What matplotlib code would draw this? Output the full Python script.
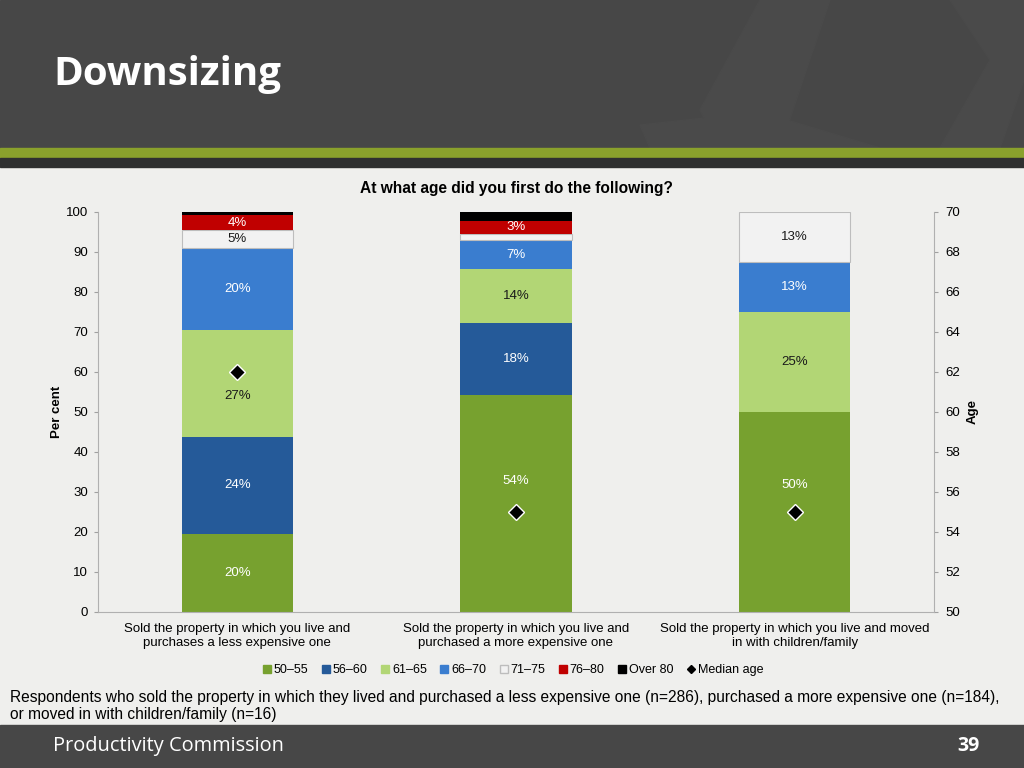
import numpy as np
import matplotlib.pyplot as plt
from matplotlib.patches import Rectangle, Polygon
from matplotlib.lines import Line2D


# --- data ---
categories = ['Sold the property in which you live and\npurchases a less expensive one',
              'Sold the property in which you live and\npurchased a more expensive one',
              'Sold the property in which you live and moved\nin with children/family']
age_groups = ['50\u201355', '56\u201360', '61\u201365', '66\u201370', '71\u201375', '76\u201380', 'Over 80']
shares = np.array([
    [19.6, 54.3, 50.0],   # 50-55
    [24.1, 17.9, 0.0],    # 56-60
    [26.9, 13.6, 25.0],   # 61-65
    [20.3, 7.1, 12.5],    # 66-70
    [4.5, 1.6, 12.5],     # 71-75
    [3.8, 3.3, 0.0],      # 76-80
    [0.8, 2.2, 0.0],      # Over 80
])
bar_labels = [
    ['20%', '54%', '50%'],
    ['24%', '18%', ''],
    ['27%', '14%', '25%'],
    ['20%', '7%', '13%'],
    ['5%', '', '13%'],
    ['4%', '3%', ''],
    ['', '', ''],
]
median_age = [62, 55, 55]

colors = ['#77a12f', '#255a99', '#b2d675', '#3a7dcf', '#f2f2f2', '#c00000', '#000000']
label_colors = ['white', 'white', '#1a1a1a', 'white', '#1a1a1a', 'white', 'white']
# labels that excel moved out of the way of the median markers: (group, bar) -> shift
label_nudge = {(2, 0): -3.2, (0, 1): 5.7, (0, 2): 6.7}

bg = '#efefed'
header = '#474747'

plt.rcParams['font.family'] = ['Liberation Sans', 'DejaVu Sans']

fig = plt.figure(figsize=(10.24, 7.68), dpi=100)
fig.patch.set_facecolor(bg)

# --- slide frame ---
fig.add_artist(Rectangle((0, 1 - 148/768), 1, 148/768, transform=fig.transFigure,
                         color=header, zorder=0))
# faint decoration in the header
for pts in [[(700, 110), (760, 0), (830, 0), (780, 148), (720, 148)],
            [(950, 0), (1024, 0), (1024, 80), (1000, 148), (940, 148), (990, 60)],
            [(640, 125), (760, 112), (880, 148), (650, 148)]]:
    fig.add_artist(Polygon([(px/1024, 1 - py/768) for px, py in pts], closed=True,
                           transform=fig.transFigure, color='#4a4a4a', zorder=0.5))
fig.add_artist(Rectangle((0, 1 - 158/768), 1, 10/768, transform=fig.transFigure,
                         color='#8aa12c', zorder=1))
fig.add_artist(Rectangle((0, 1 - 167/768), 1, 9/768, transform=fig.transFigure,
                         color='#2f3030', zorder=1))
fig.add_artist(Rectangle((0, 0), 1, 43/768, transform=fig.transFigure,
                         color=header, zorder=0))

fig.text(53/1024, 1 - 75/768, 'Downsizing', color='white', fontsize=29,
         fontweight='bold', family='Open Sans', va='center', ha='left')
fig.text(53/1024, 1 - 746/768, 'Productivity Commission', color='white', fontsize=14.4,
         family='Open Sans', va='center', ha='left')
fig.text(980/1024, 1 - 746/768, '39', color='white', fontsize=14, fontweight='bold',
         family='Open Sans', va='center', ha='right')
fig.text(10/1024, 1 - 706/768,
         'Respondents who sold the property in which they lived and purchased a less expensive one (n=286), '
         'purchased a more expensive one (n=184),\nor moved in with children/family (n=16)',
         fontsize=11.2, va='center', ha='left', color='black', linespacing=1.1)

# --- chart ---
ax = fig.add_axes([98/1024, 1 - 612/768, 836/1024, 400/768])
ax.set_facecolor(bg)
x = np.arange(len(categories))
bottom = np.zeros(len(categories))
for i, grp in enumerate(age_groups):
    ec = '#bdbdbd' if i == 4 else 'none'
    ax.bar(x, shares[i], 0.4, bottom=bottom, color=colors[i], edgecolor=ec,
           linewidth=0.8, label=grp, zorder=2)
    for j in range(len(categories)):
        if bar_labels[i][j]:
            y = bottom[j] + shares[i][j] / 2 + label_nudge.get((i, j), 0)
            ax.text(x[j], y, bar_labels[i][j], ha='center', va='center',
                    fontsize=9.5, color=label_colors[i], zorder=3)
    bottom += shares[i]

ax.set_xlim(-0.5, 2.5)
ax.set_ylim(0, 100)
ax.set_yticks(range(0, 101, 10))
ax.set_xticks(x)
ax.set_xticklabels(categories, fontsize=9.5)
ax.tick_params(axis='x', length=0, pad=8)
ax.tick_params(axis='y', labelsize=9.5, length=3, color='#a0a0a0', pad=4)
for s in ['top', 'right']:
    ax.spines[s].set_visible(False)
for s in ['left', 'bottom']:
    ax.spines[s].set_color('#b0b0b0')
ax.set_ylabel('Per cent', fontsize=9.5, fontweight='bold', labelpad=2)
ax.set_title('At what age did you first do the following?', fontsize=11.2,
             fontweight='bold', pad=14)

ax2 = ax.twinx()
ax2.set_ylim(50, 70)
ax2.set_yticks(range(50, 71, 2))
ax2.plot(x, median_age, linestyle='none', marker='D', markersize=8, color='black',
         markeredgecolor='white', markeredgewidth=1, zorder=4)
ax2.tick_params(axis='y', labelsize=9.5, length=3, color='#a0a0a0', pad=5)
for s in ['top', 'left', 'bottom']:
    ax2.spines[s].set_visible(False)
ax2.spines['right'].set_color('#b0b0b0')
ax2.set_ylabel('Age', fontsize=9.5, fontweight='bold', labelpad=5)

handles = [Line2D([], [], linestyle='none', marker='s', markersize=6, color=c,
                  markeredgecolor='#bdbdbd' if c == '#f2f2f2' else c) for c in colors]
handles.append(Line2D([], [], linestyle='none', marker='D', markersize=4, color='black'))
fig.legend(handles, age_groups + ['Median age'], loc='center', ncol=8,
           bbox_to_anchor=(512/1024, 1 - 670/768), frameon=False, fontsize=9,
           handletextpad=0.05, columnspacing=0.9, handlelength=1)

fig.savefig('out.png', dpi=100, facecolor=bg)
